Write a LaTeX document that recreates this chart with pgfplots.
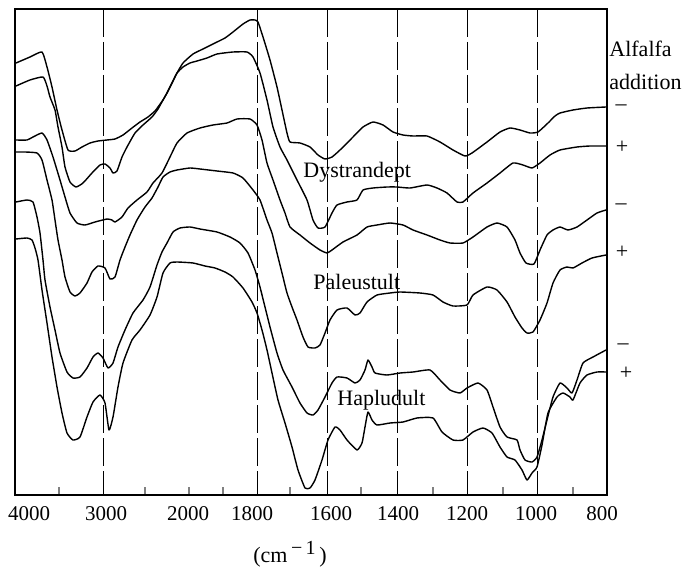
\documentclass[border=0pt]{standalone}
\usepackage{fontspec}
\setmainfont{Liberation Serif}
\usepackage{pgfplots}
\pgfplotsset{compat=1.18}
\begin{document}
\begin{tikzpicture}[lab/.style={font=\fontsize{11bp}{13bp}\selectfont}]
\begin{axis}[
  x=0.5bp, y=0.5bp,
  y dir=reverse,
  xmin=15, xmax=607, ymin=9, ymax=495,
  clip=false,
  axis line style={line width=0.75bp},
  xtick={29,106,188,252,331,398,467,536,602},
  xticklabels={4000,3000,2000,1800,1600,1400,1200,1000,800},
  major tick length=0pt,
  minor xtick={59,145,189,223,290,361,433,503,573},
  minor tick length=4bp,
  minor tick style={line width=0.6bp},
  xtick pos=left,
  ytick=\empty,
  xticklabel style={font=\fontsize{10.5bp}{12bp}\selectfont, yshift=-2bp},
  spec/.style={black, line width=0.7bp, line join=round, mark=none, smooth, tension=0.3},
  ref/.style={black, line width=0.5bp, mark=none, dash pattern=on 14bp off 2.5bp},
]
% reference lines
\addplot[ref] coordinates {(103,9) (103,495)};
\addplot[ref] coordinates {(257,9) (257,495)};
\addplot[ref] coordinates {(327,9) (327,495)};
\addplot[ref] coordinates {(397,9) (397,495)};
\addplot[ref] coordinates {(467,9) (467,495)};
\addplot[ref] coordinates {(537,9) (537,495)};
% Dystrandept -
\addplot[spec] coordinates {(16,63)(30,57)(42,52)(47,67)(52,87)(57,110)(62,130)(68,150)(75,151)(82,147)(90,143)(98,141)(107,140)(115,139)(123,135)(132,128)(140,122)(148,117)(155,111)(158,107)(163,100)(167,93)(172,83)(177,73)(183,63)(193,54)(203,49)(215,43)(225,38)(233,32)(243,24)(250,20)(255,20)(258,22)(263,37)(270,60)(277,87)(282,110)(287,133)(290,142)(300,143)(310,147)(318,155)(325,159)(332,157)(340,150)(353,137)(363,127)(373,122)(383,125)(393,132)(403,135)(413,136)(427,136)(440,142)(453,150)(465,156)(472,153)(487,142)(500,132)(510,128)(520,130)(530,133)(538,132)(548,123)(555,116)(560,113)(573,110)(587,108)(606,107)};
% Dystrandept +
\addplot[spec] coordinates {(16,86)(30,80)(43,77)(47,86)(50,97)(55,110)(58,127)(62,147)(65,167)(70,182)(76,187)(83,183)(92,173)(100,165)(105,164)(110,168)(113,173)(117,171)(122,157)(127,147)(135,133)(143,125)(152,117)(158,109)(163,100)(167,93)(172,83)(177,73)(183,67)(190,63)(197,61)(207,58)(217,54)(233,52)(247,52)(253,57)(260,73)(267,100)(273,127)(280,147)(287,160)(297,180)(307,200)(313,220)(318,228)(325,227)(332,213)(337,205)(347,202)(357,200)(363,190)(373,188)(387,187)(397,187)(410,188)(427,185)(437,188)(447,193)(457,202)(463,202)(473,193)(487,183)(500,173)(513,163)(523,165)(532,168)(540,163)(550,155)(560,150)(577,147)(590,146)(606,146)};
% Paleustult -
\addplot[spec] coordinates {(16,140)(27,140)(33,137)(42,133)(47,140)(53,157)(60,180)(65,197)(70,213)(77,223)(85,225)(95,222)(107,219)(112,220)(115,222)(122,217)(128,208)(137,200)(147,192)(153,183)(162,173)(170,157)(177,143)(187,133)(200,128)(213,125)(227,123)(237,119)(250,119)(257,125)(262,140)(267,163)(273,180)(280,200)(285,213)(290,227)(300,235)(310,243)(320,250)(327,253)(332,250)(343,242)(357,235)(367,227)(377,225)(390,223)(403,225)(413,230)(427,235)(440,240)(450,243)(463,243)(473,237)(487,227)(497,223)(507,227)(515,240)(520,253)(526,263)(534,264)(540,250)(547,235)(553,230)(560,227)(568,230)(577,227)(587,220)(597,213)(606,210)};
% Paleustult +
\addplot[spec] coordinates {(16,152)(25,152)(37,153)(42,160)(47,180)(52,200)(55,220)(58,240)(62,260)(65,277)(70,292)(75,296)(80,293)(87,283)(92,272)(98,266)(105,268)(110,279)(115,277)(120,260)(125,247)(130,235)(137,220)(145,207)(152,198)(158,187)(163,177)(170,172)(177,170)(190,168)(200,169)(217,171)(233,173)(243,178)(253,190)(260,200)(267,220)(272,233)(277,253)(282,273)(287,293)(292,307)(297,320)(303,337)(308,347)(315,348)(320,345)(325,333)(330,320)(337,310)(347,308)(355,315)(360,313)(367,302)(377,295)(390,293)(400,292)(420,293)(433,295)(443,302)(453,306)(467,305)(473,295)(487,287)(497,290)(507,302)(515,317)(522,328)(527,333)(533,332)(540,320)(547,303)(553,283)(560,270)(567,267)(573,268)(582,263)(592,258)(606,255)};
% Hapludult -
\addplot[spec] coordinates {(16,202)(27,200)(33,202)(37,217)(40,233)(43,260)(45,280)(50,307)(55,330)(60,353)(67,372)(73,378)(80,377)(87,368)(93,357)(98,353)(103,358)(108,368)(113,363)(118,347)(125,330)(133,313)(143,300)(150,287)(157,265)(162,252)(167,243)(173,232)(180,228)(190,227)(200,229)(217,232)(230,237)(240,243)(248,253)(255,270)(260,287)(265,307)(270,327)(277,353)(283,370)(292,387)(300,403)(307,413)(313,415)(318,410)(325,397)(332,383)(337,377)(347,378)(355,383)(360,380)(365,370)(368,360)(372,367)(375,373)(387,375)(400,373)(413,372)(430,370)(440,380)(450,390)(460,393)(467,388)(478,383)(487,390)(493,407)(500,427)(507,437)(517,440)(520,450)(525,460)(532,462)(537,457)(542,440)(547,420)(553,397)(560,383)(567,388)(572,393)(577,380)(583,363)(593,357)(606,350)};
% Hapludult +
\addplot[spec] coordinates {(16,239)(27,238)(32,240)(35,248)(38,260)(42,290)(47,323)(52,357)(57,387)(62,413)(67,433)(73,440)(80,437)(87,417)(93,402)(100,395)(105,403)(109,430)(113,417)(118,387)(123,363)(132,340)(140,330)(150,315)(157,297)(163,273)(170,263)(177,262)(193,263)(205,266)(215,268)(225,272)(233,277)(243,288)(252,302)(257,313)(262,330)(267,350)(272,373)(278,400)(285,423)(292,447)(298,470)(305,488)(310,488)(315,480)(322,460)(328,440)(335,427)(340,430)(347,440)(357,450)(362,443)(365,427)(368,412)(372,420)(377,425)(390,423)(403,422)(417,418)(433,418)(442,432)(453,440)(463,440)(473,432)(483,428)(492,433)(500,447)(507,457)(515,460)(522,470)(527,480)(532,473)(537,467)(542,445)(548,413)(557,397)(563,393)(570,397)(573,400)(580,383)(587,375)(597,372)(606,372)};
% text
\node[lab, anchor=base west, inner sep=0pt] at (axis cs:303,178) {Dystrandept};
\node[lab, anchor=base west, inner sep=0pt] at (axis cs:313,289) {Paleustult};
\node[lab, anchor=base west, inner sep=0pt] at (axis cs:337,405) {Hapludult};
\node[lab, anchor=base west, inner sep=0pt] at (axis cs:609,57) {Alfalfa};
\node[lab, anchor=base west, inner sep=0pt] at (axis cs:609,90) {addition};
\node[lab, inner sep=0pt] at (axis cs:621,108) {–};
\node[lab, inner sep=0pt] at (axis cs:622,147) {+};
\node[lab, inner sep=0pt] at (axis cs:621,207) {–};
\node[lab, inner sep=0pt] at (axis cs:622,252) {+};
\node[lab, inner sep=0pt] at (axis cs:623,347) {–};
\node[lab, inner sep=0pt] at (axis cs:626,373) {+};
\node[lab, anchor=base, inner sep=0pt] at (axis cs:290,562) {(cm\,\raisebox{4bp}{\fontsize{10bp}{12bp}\selectfont −\,1}\,)};
\coordinate (BL) at (axis cs:0,567);
\coordinate (TR) at (axis cs:697,0);
\end{axis}
\pgfresetboundingbox
\useasboundingbox (BL) rectangle (TR);
\end{tikzpicture}
\end{document}
